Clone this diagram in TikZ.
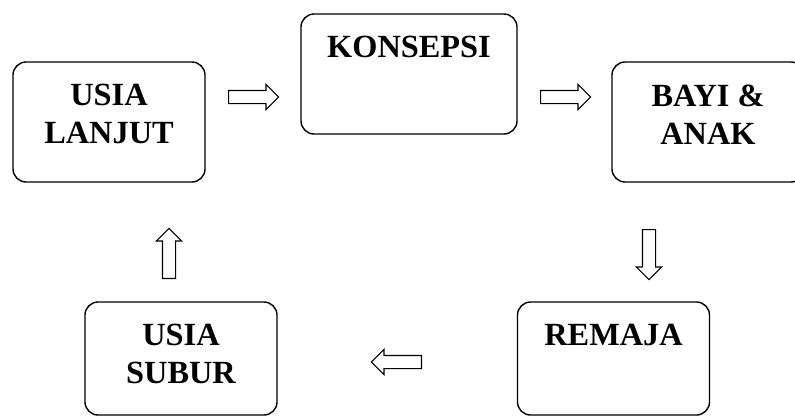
\documentclass[tikz,border=0pt]{standalone}
\usepackage{fontspec}
\setmainfont{Liberation Serif}
\usetikzlibrary{positioning,shapes.arrows}
\tikzset{
  stage/.style={draw=black,line width=1pt,rounded corners=0.33cm,inner sep=0pt},
  stagetext/.style={inner sep=0pt,align=center,font=\fontsize{23}{27}\selectfont\bfseries},
  flow/.style={draw=black,line width=0.8pt,single arrow,single arrow head extend=0.15cm,
    single arrow head indent=0pt,inner sep=0.15cm,minimum height=1.25cm,minimum width=0.6cm,anchor=tail}
}
\begin{document}
\begin{tikzpicture}[x=0.025cm,y=-0.025cm]
\def\pad {0.575cm} % gap from top of a box to its caps
% frame:
 \useasboundingbox (0,0) rectangle (795,416);
 \clip (0,0) rectangle (795,416);
% upper row:
 \node[stage,minimum width=4.8cm,minimum height=3cm] (lanjut) at (109,122) {};
 \node[stage,minimum width=5.4cm,minimum height=3cm] (konsepsi) at (409,74) {};
 \node[stage,minimum width=4.8cm,minimum height=3cm] (bayi) at (708,122) {};
% lower row:
 \node[stage,minimum width=4.8cm,minimum height=2.825cm] (remaja) at (613.5,358.5) {};
 \node[stage,minimum width=4.8cm,minimum height=2.825cm] (subur) at (181,358.5) {};
% texts:
 \node[stagetext,below=\pad of lanjut.north] (lanjutT) {USIA\\LANJUT};
 \node[stagetext,below=\pad of konsepsi.north] (konsepsiT) {KONSEPSI};
 \node[stagetext,below=\pad of bayi.north] (bayiT) {BAYI \&\\ANAK};
 \node[stagetext,below=\pad of remaja.north] (remajaT) {REMAJA};
 \node[stagetext,below=\pad of subur.north] (suburT) {USIA\\SUBUR};
% arrows:
 \node[flow] (a1) at (228,97) {};
 \node[flow] (a2) at (540,97) {};
 \node[flow,shape border rotate=270] (a3) at (649,229) {};
 \node[flow,shape border rotate=180] (a4) at (422,362) {};
 \node[flow,shape border rotate=90] (a5) at (169,279) {};
\end{tikzpicture}
\end{document}
